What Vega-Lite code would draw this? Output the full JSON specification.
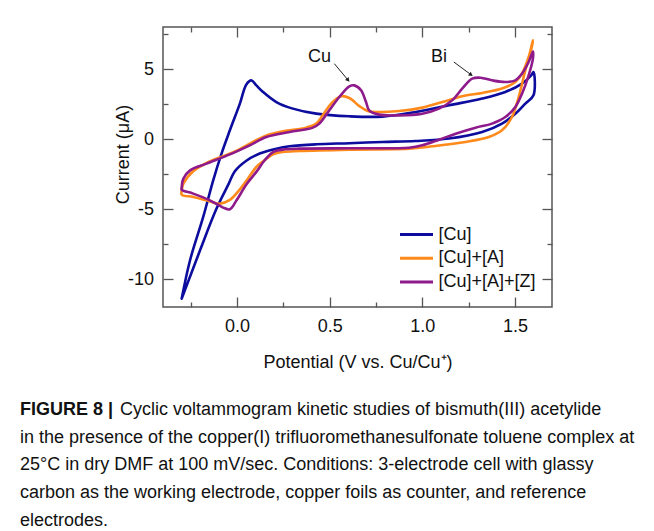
{
  "$schema": "https://vega.github.io/schema/vega-lite/v6.json",
  "width": 389,
  "height": 280,
  "autosize": {"type": "none"},
  "padding": {"left": 163, "top": 27, "right": 102, "bottom": 224},
  "background": "white",
  "config": {
    "font": "Liberation Sans",
    "view": {"stroke": "#555555", "strokeWidth": 1.5},
    "axis": {
      "domain": false,
      "grid": false,
      "tickColor": "#555555",
      "tickWidth": 1.3,
      "labelFont": "Liberation Sans",
      "labelFontSize": 18,
      "labelColor": "#111111",
      "titleFont": "Liberation Sans",
      "titleFontSize": 18,
      "titleFontWeight": "normal",
      "titleColor": "#111111"
    },
    "legend": {
      "labelFont": "Liberation Sans",
      "labelFontSize": 18,
      "labelColor": "#111111",
      "padding": 0
    }
  },
  "title": {
    "text": "FIGURE 8 |",
    "subtitle": [
      "\u200b\u00a0\u00a0\u00a0\u00a0\u00a0\u00a0\u00a0\u00a0\u00a0\u00a0\u00a0\u00a0\u00a0\u00a0\u00a0\u00a0\u00a0\u00a0\u00a0\u00a0Cyclic voltammogram kinetic studies of bismuth(III) acetylide",
      "in the presence of the copper(I) trifluoromethanesulfonate toluene complex at",
      "25°C in dry DMF at 100 mV/sec. Conditions: 3-electrode cell with glassy",
      "carbon as the working electrode, copper foils as counter, and reference",
      "electrodes."
    ],
    "orient": "bottom",
    "anchor": "start",
    "frame": "group",
    "font": "Liberation Sans",
    "fontSize": 18,
    "fontWeight": "bold",
    "color": "#111111",
    "subtitleFont": "Liberation Sans",
    "subtitleFontSize": 18,
    "subtitleFontWeight": "normal",
    "subtitleColor": "#111111",
    "subtitleLineHeight": 27.7,
    "subtitlePadding": -18,
    "dx": -143,
    "offset": 30
  },
  "datasets": {
    "cv": [
      {"s": "[Cu]", "i": 1, "x": -0.299, "y": -11.4},
      {"s": "[Cu]", "i": 2, "x": -0.254, "y": -8.66},
      {"s": "[Cu]", "i": 3, "x": -0.183, "y": -5.57},
      {"s": "[Cu]", "i": 4, "x": -0.129, "y": -2.95},
      {"s": "[Cu]", "i": 5, "x": -0.084, "y": -1.04},
      {"s": "[Cu]", "i": 6, "x": -0.039, "y": 0.62},
      {"s": "[Cu]", "i": 7, "x": 0.015, "y": 2.53},
      {"s": "[Cu]", "i": 8, "x": 0.05, "y": 3.9},
      {"s": "[Cu]", "i": 9, "x": 0.077, "y": 4.19},
      {"s": "[Cu]", "i": 10, "x": 0.104, "y": 3.83},
      {"s": "[Cu]", "i": 11, "x": 0.14, "y": 3.36},
      {"s": "[Cu]", "i": 12, "x": 0.212, "y": 2.64},
      {"s": "[Cu]", "i": 13, "x": 0.301, "y": 2.17},
      {"s": "[Cu]", "i": 14, "x": 0.427, "y": 1.81},
      {"s": "[Cu]", "i": 15, "x": 0.606, "y": 1.62},
      {"s": "[Cu]", "i": 16, "x": 0.785, "y": 1.6},
      {"s": "[Cu]", "i": 17, "x": 0.964, "y": 1.93},
      {"s": "[Cu]", "i": 18, "x": 1.144, "y": 2.41},
      {"s": "[Cu]", "i": 19, "x": 1.323, "y": 2.89},
      {"s": "[Cu]", "i": 20, "x": 1.448, "y": 3.36},
      {"s": "[Cu]", "i": 21, "x": 1.538, "y": 3.96},
      {"s": "[Cu]", "i": 22, "x": 1.585, "y": 4.5},
      {"s": "[Cu]", "i": 23, "x": 1.6, "y": 4.79},
      {"s": "[Cu]", "i": 24, "x": 1.6, "y": 3.12},
      {"s": "[Cu]", "i": 25, "x": 1.556, "y": 2.53},
      {"s": "[Cu]", "i": 26, "x": 1.502, "y": 1.81},
      {"s": "[Cu]", "i": 27, "x": 1.43, "y": 1.1},
      {"s": "[Cu]", "i": 28, "x": 1.323, "y": 0.5},
      {"s": "[Cu]", "i": 29, "x": 1.144, "y": 0.03},
      {"s": "[Cu]", "i": 30, "x": 0.964, "y": -0.14},
      {"s": "[Cu]", "i": 31, "x": 0.785, "y": -0.21},
      {"s": "[Cu]", "i": 32, "x": 0.606, "y": -0.3},
      {"s": "[Cu]", "i": 33, "x": 0.427, "y": -0.38},
      {"s": "[Cu]", "i": 34, "x": 0.283, "y": -0.52},
      {"s": "[Cu]", "i": 35, "x": 0.212, "y": -0.69},
      {"s": "[Cu]", "i": 36, "x": 0.122, "y": -1.04},
      {"s": "[Cu]", "i": 37, "x": 0.05, "y": -1.55},
      {"s": "[Cu]", "i": 38, "x": -0.012, "y": -2.3},
      {"s": "[Cu]", "i": 39, "x": -0.045, "y": -3.19},
      {"s": "[Cu]", "i": 40, "x": -0.111, "y": -4.97},
      {"s": "[Cu]", "i": 41, "x": -0.2, "y": -7.95},
      {"s": "[Cu]", "i": 42, "x": -0.299, "y": -11.4},

      {"s": "[Cu]+[A]", "i": 1, "x": -0.299, "y": -3.7},
      {"s": "[Cu]+[A]", "i": 2, "x": -0.29, "y": -3.19},
      {"s": "[Cu]+[A]", "i": 3, "x": -0.237, "y": -2.3},
      {"s": "[Cu]+[A]", "i": 4, "x": -0.147, "y": -1.6},
      {"s": "[Cu]+[A]", "i": 5, "x": -0.02, "y": -0.95},
      {"s": "[Cu]+[A]", "i": 6, "x": 0.068, "y": -0.33},
      {"s": "[Cu]+[A]", "i": 7, "x": 0.158, "y": 0.26},
      {"s": "[Cu]+[A]", "i": 8, "x": 0.247, "y": 0.55},
      {"s": "[Cu]+[A]", "i": 9, "x": 0.373, "y": 0.81},
      {"s": "[Cu]+[A]", "i": 10, "x": 0.427, "y": 1.1},
      {"s": "[Cu]+[A]", "i": 11, "x": 0.462, "y": 1.69},
      {"s": "[Cu]+[A]", "i": 12, "x": 0.508, "y": 2.53},
      {"s": "[Cu]+[A]", "i": 13, "x": 0.561, "y": 3.05},
      {"s": "[Cu]+[A]", "i": 14, "x": 0.606, "y": 2.93},
      {"s": "[Cu]+[A]", "i": 15, "x": 0.66, "y": 2.35},
      {"s": "[Cu]+[A]", "i": 16, "x": 0.705, "y": 2.0},
      {"s": "[Cu]+[A]", "i": 17, "x": 0.75, "y": 1.93},
      {"s": "[Cu]+[A]", "i": 18, "x": 0.875, "y": 2.0},
      {"s": "[Cu]+[A]", "i": 19, "x": 1.0, "y": 2.24},
      {"s": "[Cu]+[A]", "i": 20, "x": 1.108, "y": 2.64},
      {"s": "[Cu]+[A]", "i": 21, "x": 1.215, "y": 3.05},
      {"s": "[Cu]+[A]", "i": 22, "x": 1.323, "y": 3.29},
      {"s": "[Cu]+[A]", "i": 23, "x": 1.43, "y": 3.6},
      {"s": "[Cu]+[A]", "i": 24, "x": 1.502, "y": 4.07},
      {"s": "[Cu]+[A]", "i": 25, "x": 1.538, "y": 4.67},
      {"s": "[Cu]+[A]", "i": 26, "x": 1.574, "y": 5.86},
      {"s": "[Cu]+[A]", "i": 27, "x": 1.597, "y": 7.05},
      {"s": "[Cu]+[A]", "i": 28, "x": 1.588, "y": 6.4},
      {"s": "[Cu]+[A]", "i": 29, "x": 1.556, "y": 4.9},
      {"s": "[Cu]+[A]", "i": 30, "x": 1.52, "y": 3.0},
      {"s": "[Cu]+[A]", "i": 31, "x": 1.484, "y": 1.57},
      {"s": "[Cu]+[A]", "i": 32, "x": 1.43, "y": 0.62},
      {"s": "[Cu]+[A]", "i": 33, "x": 1.359, "y": 0.14},
      {"s": "[Cu]+[A]", "i": 34, "x": 1.233, "y": -0.21},
      {"s": "[Cu]+[A]", "i": 35, "x": 1.054, "y": -0.52},
      {"s": "[Cu]+[A]", "i": 36, "x": 0.928, "y": -0.69},
      {"s": "[Cu]+[A]", "i": 37, "x": 0.606, "y": -0.76},
      {"s": "[Cu]+[A]", "i": 38, "x": 0.337, "y": -0.86},
      {"s": "[Cu]+[A]", "i": 39, "x": 0.247, "y": -0.93},
      {"s": "[Cu]+[A]", "i": 40, "x": 0.194, "y": -1.1},
      {"s": "[Cu]+[A]", "i": 41, "x": 0.14, "y": -1.6},
      {"s": "[Cu]+[A]", "i": 42, "x": 0.104, "y": -2.0},
      {"s": "[Cu]+[A]", "i": 43, "x": 0.06, "y": -2.8},
      {"s": "[Cu]+[A]", "i": 44, "x": 0.015, "y": -3.6},
      {"s": "[Cu]+[A]", "i": 45, "x": -0.039, "y": -4.35},
      {"s": "[Cu]+[A]", "i": 46, "x": -0.093, "y": -4.62},
      {"s": "[Cu]+[A]", "i": 47, "x": -0.165, "y": -4.38},
      {"s": "[Cu]+[A]", "i": 48, "x": -0.237, "y": -4.14},
      {"s": "[Cu]+[A]", "i": 49, "x": -0.299, "y": -3.98},
      {"s": "[Cu]+[A]", "i": 50, "x": -0.299, "y": -3.7},

      {"s": "[Cu]+[A]+[Z]", "i": 1, "x": -0.299, "y": -3.45},
      {"s": "[Cu]+[A]+[Z]", "i": 2, "x": -0.29, "y": -2.83},
      {"s": "[Cu]+[A]+[Z]", "i": 3, "x": -0.254, "y": -2.24},
      {"s": "[Cu]+[A]+[Z]", "i": 4, "x": -0.165, "y": -1.76},
      {"s": "[Cu]+[A]+[Z]", "i": 5, "x": -0.039, "y": -1.1},
      {"s": "[Cu]+[A]+[Z]", "i": 6, "x": 0.068, "y": -0.45},
      {"s": "[Cu]+[A]+[Z]", "i": 7, "x": 0.158, "y": 0.14},
      {"s": "[Cu]+[A]+[Z]", "i": 8, "x": 0.283, "y": 0.5},
      {"s": "[Cu]+[A]+[Z]", "i": 9, "x": 0.409, "y": 0.81},
      {"s": "[Cu]+[A]+[Z]", "i": 10, "x": 0.444, "y": 1.1},
      {"s": "[Cu]+[A]+[Z]", "i": 11, "x": 0.498, "y": 2.05},
      {"s": "[Cu]+[A]+[Z]", "i": 12, "x": 0.552, "y": 3.0},
      {"s": "[Cu]+[A]+[Z]", "i": 13, "x": 0.606, "y": 3.76},
      {"s": "[Cu]+[A]+[Z]", "i": 14, "x": 0.633, "y": 3.83},
      {"s": "[Cu]+[A]+[Z]", "i": 15, "x": 0.669, "y": 3.48},
      {"s": "[Cu]+[A]+[Z]", "i": 16, "x": 0.696, "y": 2.64},
      {"s": "[Cu]+[A]+[Z]", "i": 17, "x": 0.713, "y": 2.05},
      {"s": "[Cu]+[A]+[Z]", "i": 18, "x": 0.767, "y": 1.74},
      {"s": "[Cu]+[A]+[Z]", "i": 19, "x": 0.875, "y": 1.69},
      {"s": "[Cu]+[A]+[Z]", "i": 20, "x": 1.0, "y": 1.81},
      {"s": "[Cu]+[A]+[Z]", "i": 21, "x": 1.09, "y": 2.17},
      {"s": "[Cu]+[A]+[Z]", "i": 22, "x": 1.161, "y": 2.76},
      {"s": "[Cu]+[A]+[Z]", "i": 23, "x": 1.215, "y": 3.6},
      {"s": "[Cu]+[A]+[Z]", "i": 24, "x": 1.269, "y": 4.31},
      {"s": "[Cu]+[A]+[Z]", "i": 25, "x": 1.314, "y": 4.38},
      {"s": "[Cu]+[A]+[Z]", "i": 26, "x": 1.376, "y": 4.19},
      {"s": "[Cu]+[A]+[Z]", "i": 27, "x": 1.448, "y": 4.07},
      {"s": "[Cu]+[A]+[Z]", "i": 28, "x": 1.502, "y": 4.19},
      {"s": "[Cu]+[A]+[Z]", "i": 29, "x": 1.538, "y": 4.67},
      {"s": "[Cu]+[A]+[Z]", "i": 30, "x": 1.574, "y": 5.5},
      {"s": "[Cu]+[A]+[Z]", "i": 31, "x": 1.597, "y": 6.25},
      {"s": "[Cu]+[A]+[Z]", "i": 32, "x": 1.597, "y": 5.74},
      {"s": "[Cu]+[A]+[Z]", "i": 33, "x": 1.574, "y": 4.55},
      {"s": "[Cu]+[A]+[Z]", "i": 34, "x": 1.538, "y": 3.24},
      {"s": "[Cu]+[A]+[Z]", "i": 35, "x": 1.502, "y": 2.29},
      {"s": "[Cu]+[A]+[Z]", "i": 36, "x": 1.448, "y": 1.57},
      {"s": "[Cu]+[A]+[Z]", "i": 37, "x": 1.376, "y": 1.1},
      {"s": "[Cu]+[A]+[Z]", "i": 38, "x": 1.287, "y": 0.81},
      {"s": "[Cu]+[A]+[Z]", "i": 39, "x": 1.18, "y": 0.38},
      {"s": "[Cu]+[A]+[Z]", "i": 40, "x": 1.09, "y": -0.05},
      {"s": "[Cu]+[A]+[Z]", "i": 41, "x": 1.0, "y": -0.45},
      {"s": "[Cu]+[A]+[Z]", "i": 42, "x": 0.928, "y": -0.62},
      {"s": "[Cu]+[A]+[Z]", "i": 43, "x": 0.606, "y": -0.66},
      {"s": "[Cu]+[A]+[Z]", "i": 44, "x": 0.337, "y": -0.69},
      {"s": "[Cu]+[A]+[Z]", "i": 45, "x": 0.247, "y": -0.76},
      {"s": "[Cu]+[A]+[Z]", "i": 46, "x": 0.194, "y": -0.93},
      {"s": "[Cu]+[A]+[Z]", "i": 47, "x": 0.149, "y": -1.52},
      {"s": "[Cu]+[A]+[Z]", "i": 48, "x": 0.104, "y": -2.35},
      {"s": "[Cu]+[A]+[Z]", "i": 49, "x": 0.05, "y": -3.25},
      {"s": "[Cu]+[A]+[Z]", "i": 50, "x": -0.003, "y": -4.38},
      {"s": "[Cu]+[A]+[Z]", "i": 51, "x": -0.039, "y": -5.02},
      {"s": "[Cu]+[A]+[Z]", "i": 52, "x": -0.075, "y": -4.9},
      {"s": "[Cu]+[A]+[Z]", "i": 53, "x": -0.147, "y": -4.38},
      {"s": "[Cu]+[A]+[Z]", "i": 54, "x": -0.237, "y": -3.9},
      {"s": "[Cu]+[A]+[Z]", "i": 55, "x": -0.299, "y": -3.62},
      {"s": "[Cu]+[A]+[Z]", "i": 56, "x": -0.299, "y": -3.45}
    ],
    "labels": [
      {"label": "Cu", "x": 0.445, "y": 5.86},
      {"label": "Bi", "x": 1.09, "y": 5.86}
    ],
    "arrows": [
      {"x": 0.525, "y": 5.38, "x2": 0.597, "y2": 4.24, "angle": 140},
      {"x": 1.17, "y": 5.5, "x2": 1.26, "y2": 4.62, "angle": 126}
    ]
  },
  "layer": [
    {
      "data": {"name": "cv"},
      "mark": {"type": "line", "strokeWidth": 2.6, "interpolate": "catmull-rom", "strokeCap": "round", "strokeJoin": "round"},
      "encoding": {
        "x": {
          "field": "x", "type": "quantitative",
          "scale": {"domain": [-0.4, 1.7], "nice": false, "zero": false},
          "axis": {
            "orient": "bottom",
            "values": [-0.25, 0, 0.25, 0.5, 0.75, 1, 1.25, 1.5],
            "labelExpr": "abs(datum.value*2 - round(datum.value*2)) < 0.001 ? format(datum.value, '.1f') : ''",
            "tickSize": {"condition": {"test": "abs(datum.value*2 - round(datum.value*2)) < 0.001", "value": -10}, "value": -5},
            "labelPadding": 20,
            "title": "Potential (V vs. Cu/Cu⁺)",
            "titlePadding": 18
          }
        },
        "y": {
          "field": "y", "type": "quantitative",
          "scale": {"domain": [-12, 8], "nice": false, "zero": false},
          "axis": {
            "orient": "left",
            "values": [-10, -7.5, -5, -2.5, 0, 2.5, 5, 7.5],
            "labelExpr": "datum.value % 5 === 0 ? toString(datum.value) : ''",
            "tickSize": {"condition": {"test": "datum.value % 5 === 0", "value": -10}, "value": -5},
            "labelPadding": 19.5,
            "title": "Current (μA)",
            "titleX": -31,
            "titleY": 127
          }
        },
        "color": {
          "field": "s", "type": "nominal",
          "scale": {"domain": ["[Cu]", "[Cu]+[A]", "[Cu]+[A]+[Z]"], "range": ["#0c0c9e", "#ff8a1c", "#8e1a8c"]},
          "legend": {
            "title": null,
            "orient": "none",
            "legendX": 242,
            "legendY": 196,
            "symbolType": "M-1.65,0H1.65",
            "symbolSize": 400,
            "symbolStrokeWidth": 3,
            "symbolFillColor": "transparent",
            "rowPadding": 2.7,
            "labelOffset": 10.5
          }
        },
        "order": {"field": "i", "type": "quantitative"}
      }
    },
    {
      "data": {"name": "labels"},
      "mark": {"type": "text", "fontSize": 18, "font": "Liberation Sans", "color": "#111111"},
      "encoding": {
        "x": {"field": "x", "type": "quantitative", "axis": null},
        "y": {"field": "y", "type": "quantitative", "axis": null},
        "text": {"field": "label"}
      }
    },
    {
      "data": {"name": "arrows"},
      "mark": {"type": "rule", "strokeWidth": 1, "color": "#222222"},
      "encoding": {
        "x": {"field": "x", "type": "quantitative", "axis": {
          "orient": "top", "labels": false, "title": null,
          "values": [-0.25, 0, 0.25, 0.5, 0.75, 1, 1.25, 1.5],
          "tickSize": {"condition": {"test": "abs(datum.value*2 - round(datum.value*2)) < 0.001", "value": -10}, "value": -5}
        }},
        "y": {"field": "y", "type": "quantitative", "axis": {
          "orient": "right", "labels": false, "title": null,
          "values": [-10, -7.5, -5, -2.5, 0, 2.5, 5, 7.5],
          "tickSize": {"condition": {"test": "datum.value % 5 === 0", "value": -10}, "value": -5}
        }},
        "x2": {"field": "x2"},
        "y2": {"field": "y2"}
      }
    },
    {
      "data": {"name": "arrows"},
      "mark": {"type": "point", "shape": "triangle", "filled": true, "size": 22, "color": "#222222", "opacity": 1},
      "encoding": {
        "x": {"field": "x2", "type": "quantitative", "axis": null},
        "y": {"field": "y2", "type": "quantitative", "axis": null},
        "angle": {"field": "angle", "type": "quantitative", "scale": null}
      }
    }
  ],
  "resolve": {"axis": {"x": "independent", "y": "independent"}}
}
